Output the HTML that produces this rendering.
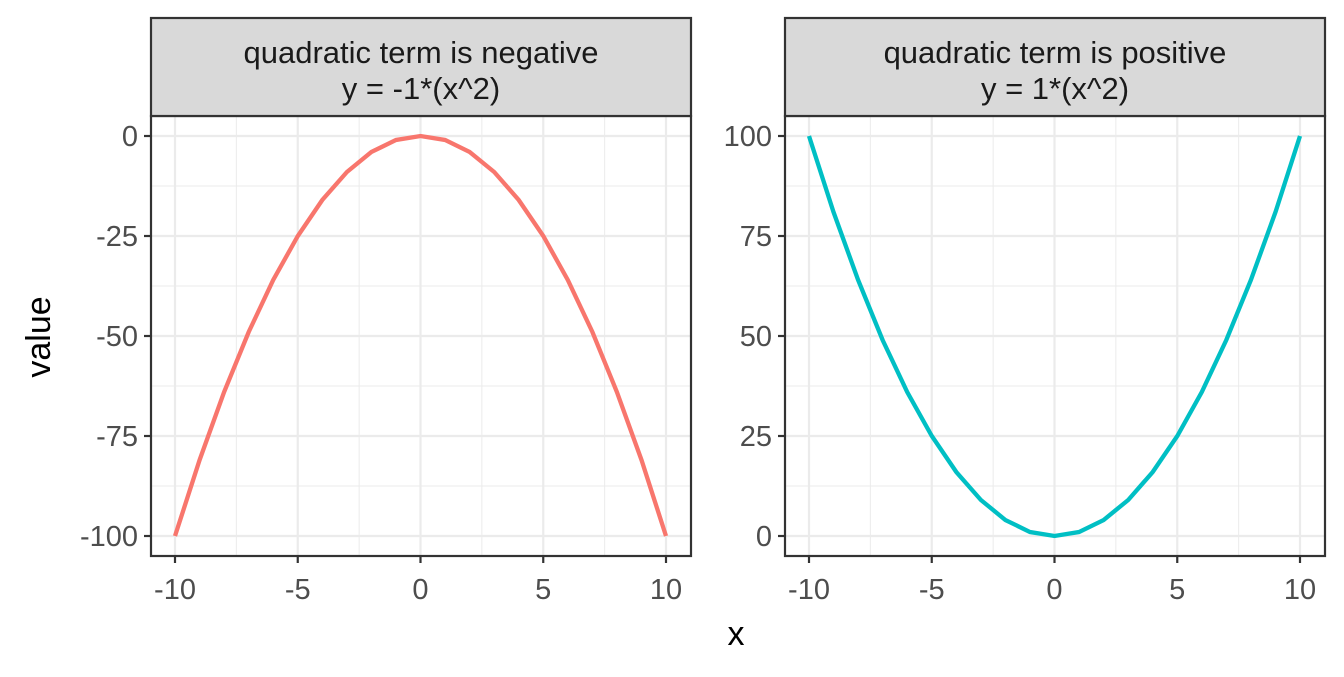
<!DOCTYPE html>
<html><head><style>body{margin:0;background:#fff}svg text{font-family:"Liberation Sans",Arial,sans-serif}</style></head><body>
<svg width="1344" height="672" xmlns="http://www.w3.org/2000/svg">
<rect width="1344" height="672" fill="#fff"/>
<g id="g"></g>
<text x="736" y="645" font-size="34" text-anchor="middle" fill="#000">x</text>
<text transform="translate(50,337) rotate(-90)" font-size="34" text-anchor="middle" fill="#000">value</text>
</svg>
<script>
const g=document.getElementById('g');let s='';
function panel(L,title2,sign,col){
 const R=L+540,T=116,B=556;
 const xs=v=>L+24+(v+10)*24.55;
 const ys=sign<0?(v=>136-v*4):(v=>536-v*4);
 s+=`<rect x="${L}" y="${T}" width="540" height="440" fill="#fff"/>`;
 for(let v=-7.5;v<=7.5;v+=5)s+=`<line x1="${xs(v)}" x2="${xs(v)}" y1="${T}" y2="${B}" stroke="#ebebeb" stroke-width="1"/>`;
 const yt=sign<0?[0,-25,-50,-75,-100]:[100,75,50,25,0];
 const ym=sign<0?[-12.5,-37.5,-62.5,-87.5]:[87.5,62.5,37.5,12.5];
 ym.forEach(v=>s+=`<line x1="${L}" x2="${R}" y1="${ys(v)}" y2="${ys(v)}" stroke="#ebebeb" stroke-width="1"/>`);
 [-10,-5,0,5,10].forEach(v=>{s+=`<line x1="${xs(v)}" x2="${xs(v)}" y1="${T}" y2="${B}" stroke="#ebebeb" stroke-width="2.2"/>`;
  s+=`<line x1="${xs(v)}" x2="${xs(v)}" y1="${B}" y2="${B+7}" stroke="#333" stroke-width="2.2"/>`;
  s+=`<text x="${xs(v)}" y="${B+43}" font-size="29" text-anchor="middle" fill="#4d4d4d">${v}</text>`;});
 yt.forEach(v=>{s+=`<line x1="${L}" x2="${R}" y1="${ys(v)}" y2="${ys(v)}" stroke="#ebebeb" stroke-width="2.2"/>`;
  s+=`<line x1="${L-7}" x2="${L}" y1="${ys(v)}" y2="${ys(v)}" stroke="#333" stroke-width="2.2"/>`;
  s+=`<text x="${L-13}" y="${ys(v)+10}" font-size="29" text-anchor="end" fill="#4d4d4d">${v}</text>`;});
 let p=[];for(let x=-10;x<=10;x++)p.push(xs(x).toFixed(1)+','+ys(sign*x*x).toFixed(1));
 s+=`<polyline points="${p.join(' ')}" fill="none" stroke="${col}" stroke-width="4.3"/>`;
 s+=`<rect x="${L}" y="${T}" width="540" height="440" fill="none" stroke="#333" stroke-width="2.2"/>`;
 s+=`<rect x="${L}" y="18" width="540" height="98" fill="#d9d9d9" stroke="#333" stroke-width="2.2"/>`;
 s+=`<text x="${L+270}" y="63" font-size="31" text-anchor="middle" fill="#1a1a1a">${title2[0]}</text>`;
 s+=`<text x="${L+270}" y="99" font-size="31" text-anchor="middle" fill="#1a1a1a">${title2[1]}</text>`;
}
panel(151,['quadratic term is negative','y = -1*(x^2)'],-1,'#f8766d');
panel(785,['quadratic term is positive','y = 1*(x^2)'],1,'#00bfc4');
g.innerHTML=s;
</script>
</body></html>
